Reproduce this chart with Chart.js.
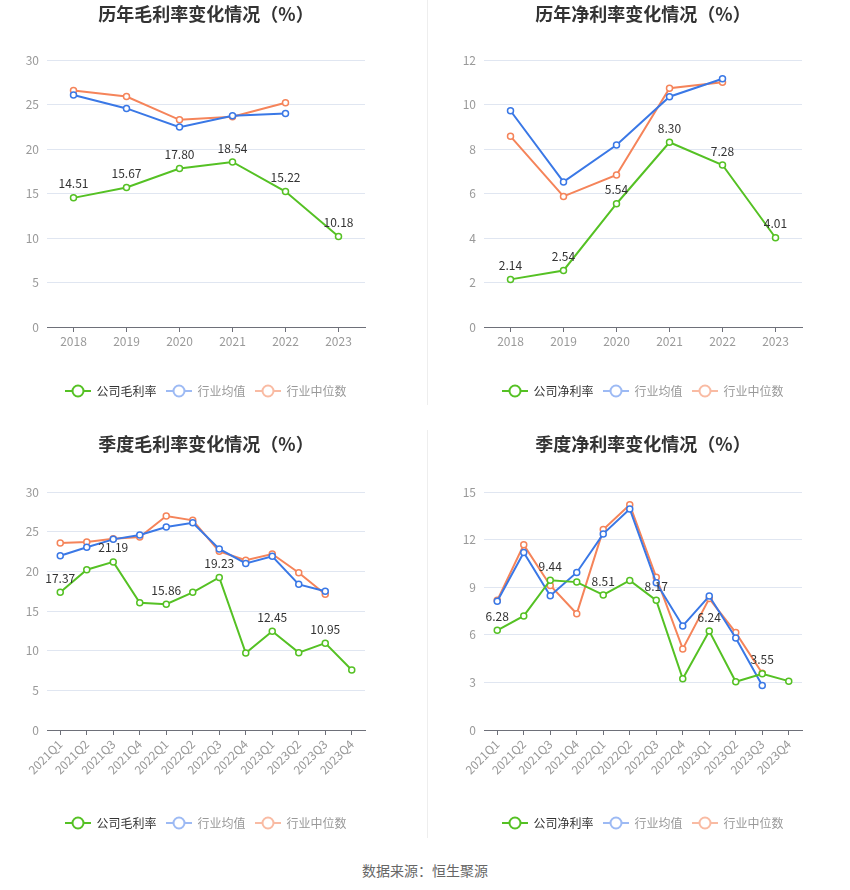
<!DOCTYPE html>
<html>
<head>
<meta charset="utf-8">
<script src="https://cdn.jsdelivr.net/npm/chart.js@4.4.1/dist/chart.umd.min.js"></script>
<style>
  html, body { margin: 0; padding: 0; background: #fff; }
  #wrap { position: relative; width: 850px; height: 890px; overflow: hidden; }
  canvas { position: absolute; }
  .sep { position: absolute; width: 1px; background: #eeeeee; left: 427px; }
  #footer { position: absolute; left: 0; width: 850px; top: 860px; text-align: center;
    font-family: "Noto Sans CJK SC", "Noto Sans", sans-serif; font-size: 14px; color: #666; }
</style>
</head>
<body>
<div id="wrap">
  <canvas id="c1" width="412" height="407" style="left:0px;top:0px;"></canvas>
  <canvas id="c2" width="412" height="407" style="left:437px;top:0px;"></canvas>
  <canvas id="c3" width="412" height="411" style="left:0px;top:428px;"></canvas>
  <canvas id="c4" width="412" height="411" style="left:437px;top:428px;"></canvas>
  <div class="sep" style="top:0px;height:405px;"></div>
  <div class="sep" style="top:430px;height:408px;"></div>
  <div id="footer">数据来源：恒生聚源</div>
</div>
<script>
// ---- data ----
const years = ['2018', '2019', '2020', '2021', '2022', '2023'];
const grossCompany = [14.51, 15.67, 17.80, 18.54, 15.22, 10.18];
const grossAvg = [26.06, 24.56, 22.46, 23.73, 23.99, null];
const grossMedian = [26.58, 25.90, 23.28, 23.62, 25.20, null];
const netCompany = [2.14, 2.54, 5.54, 8.30, 7.28, 4.01];
const netAvg = [9.72, 6.52, 8.18, 10.35, 11.16, null];
const netMedian = [8.57, 5.87, 6.83, 10.73, 11.00, null];

const quarters = ['2021Q1', '2021Q2', '2021Q3', '2021Q4', '2022Q1', '2022Q2', '2022Q3', '2022Q4', '2023Q1', '2023Q2', '2023Q3', '2023Q4'];
const qGrossCompany = [17.37, 20.21, 21.19, 16.05, 15.86, 17.35, 19.23, 9.71, 12.45, 9.75, 10.95, 7.56];
const qGrossAvg = [21.97, 23.03, 24.03, 24.58, 25.59, 26.13, 22.82, 21.00, 21.89, 18.36, 17.48, null];
const qGrossMedian = [23.57, 23.70, 24.12, 24.33, 26.97, 26.43, 22.52, 21.39, 22.18, 19.83, 17.10, null];
const qNetCompany = [6.28, 7.19, 9.44, 9.32, 8.51, 9.43, 8.17, 3.23, 6.24, 3.04, 3.55, 3.08];
const qNetAvg = [8.11, 11.19, 8.46, 9.93, 12.36, 13.93, 9.28, 6.56, 8.44, 5.80, 2.81, null];
const qNetMedian = [8.17, 11.67, 9.11, 7.33, 12.63, 14.20, 9.62, 5.11, 8.28, 6.14, 3.58, null];

const annualLabelIdx = [0, 1, 2, 3, 4, 5];
const quarterLabelIdx = [0, 2, 4, 6, 8, 10];

// ---- style ----
const FONT = '"Noto Sans CJK SC", "Noto Sans", sans-serif';
const GREEN = '#55c124';
const BLUE = '#3a78e6';
const ORANGE = '#f5845a';
const BLUE_FADE = '#9dbaf4';
const ORANGE_FADE = '#f9bba3';

function legendIcon(color) {
  const c = document.createElement('canvas');
  c.width = 26; c.height = 16;
  const g = c.getContext('2d');
  g.strokeStyle = color; g.lineWidth = 2;
  g.beginPath(); g.moveTo(0, 8); g.lineTo(26, 8); g.stroke();
  g.beginPath(); g.arc(13, 8, 5.5, 0, Math.PI * 2);
  g.fillStyle = '#fff'; g.fill(); g.stroke();
  return c;
}

function makeChart(id, cfg) {
  const icons = [legendIcon(GREEN), legendIcon(BLUE_FADE), legendIcon(ORANGE_FADE)];
  const textColors = ['#333333', '#999999', '#999999'];
  const valueLabels = {
    id: 'valueLabels',
    afterDatasetsDraw(chart) {
      const ctx = chart.ctx;
      const meta = chart.getDatasetMeta(0);
      ctx.save();
      ctx.font = '12px ' + FONT;
      ctx.fillStyle = '#333';
      ctx.textAlign = 'center';
      ctx.textBaseline = 'middle';
      cfg.labelIdx.forEach(i => {
        const p = meta.data[i];
        ctx.fillText(cfg.company[i].toFixed(2), p.x, p.y - 14);
      });
      ctx.restore();
    }
  };
  const ds = (label, data, color) => ({
    label, data, borderColor: color, backgroundColor: '#fff',
    borderWidth: 2, pointRadius: 3, pointBorderWidth: 1.5,
    pointBackgroundColor: '#fff', pointBorderColor: color, tension: 0, spanGaps: false
  });
  return new Chart(document.getElementById(id), {
    type: 'line',
    data: {
      labels: cfg.labels,
      datasets: [
        ds(cfg.names[0], cfg.company, GREEN),
        ds(cfg.names[1], cfg.avg, BLUE),
        ds(cfg.names[2], cfg.median, ORANGE)
      ]
    },
    options: {
      responsive: false,
      animation: false,
      events: [],
      layout: { padding: 0 },
      plugins: {
        tooltip: { enabled: false },
        title: {
          display: true, text: cfg.title, color: '#333',
          font: { family: FONT, size: 18, weight: 'bold' },
          padding: cfg.titlePad
        },
        legend: {
          position: 'bottom',
          labels: {
            usePointStyle: true, pointStyleWidth: 25, padding: 10,
            font: { family: FONT, size: 12 },
            generateLabels(chart) {
              const items = Chart.defaults.plugins.legend.labels.generateLabels(chart);
              items.forEach((it, i) => { it.pointStyle = icons[i]; it.fontColor = textColors[i]; });
              return items;
            }
          }
        }
      },
      scales: {
        x: {
          offset: true,
          grid: { display: true, drawOnChartArea: false, drawTicks: true, tickLength: 5, offset: false, color: '#6e7079' },
          border: { display: true, color: '#6e7079' },
          ticks: {
            color: '#999', font: { family: FONT, size: 12 }, padding: 2, autoSkip: false,
            maxRotation: cfg.rotate, minRotation: cfg.rotate
          },
          afterFit(scale) {
            const h = scale.chart.height - cfg.bottom - (scale.chart.legend ? scale.chart.legend.height : 0);
            scale.height = h;
          }
        },
        y: {
          min: 0, max: cfg.yMax,
          ticks: { stepSize: cfg.yStep, color: '#999', font: { family: FONT, size: 12 }, padding: 8 },
          grid: { color: '#e0e6f1', drawTicks: false },
          border: { display: false },
          afterFit(scale) { scale.width = 47; }
        },
        yRight: {
          position: 'right',
          min: 0, max: cfg.yMax,
          ticks: { display: false },
          grid: { display: false, drawOnChartArea: false, drawTicks: false },
          border: { display: false },
          afterFit(scale) { scale.width = 47; }
        }
      }
    },
    plugins: [valueLabels]
  });
}

makeChart('c1', {
  labels: years, company: grossCompany, avg: grossAvg, median: grossMedian,
  names: ['公司毛利率', '行业均值', '行业中位数'], title: '历年毛利率变化情况（%）',
  yMax: 30, yStep: 5, labelIdx: annualLabelIdx, rotate: 0,
  titlePad: { top: 3.2, bottom: 35.2 }, bottom: 327
});
makeChart('c2', {
  labels: years, company: netCompany, avg: netAvg, median: netMedian,
  names: ['公司净利率', '行业均值', '行业中位数'], title: '历年净利率变化情况（%）',
  yMax: 12, yStep: 2, labelIdx: annualLabelIdx, rotate: 0,
  titlePad: { top: 3.2, bottom: 35.2 }, bottom: 327
});
makeChart('c3', {
  labels: quarters, company: qGrossCompany, avg: qGrossAvg, median: qGrossMedian,
  names: ['公司毛利率', '行业均值', '行业中位数'], title: '季度毛利率变化情况（%）',
  yMax: 30, yStep: 5, labelIdx: quarterLabelIdx, rotate: 45,
  titlePad: { top: 5.2, bottom: 37.2 }, bottom: 302
});
makeChart('c4', {
  labels: quarters, company: qNetCompany, avg: qNetAvg, median: qNetMedian,
  names: ['公司净利率', '行业均值', '行业中位数'], title: '季度净利率变化情况（%）',
  yMax: 15, yStep: 3, labelIdx: quarterLabelIdx, rotate: 45,
  titlePad: { top: 5.2, bottom: 37.2 }, bottom: 302
});
</script>
</body>
</html>
